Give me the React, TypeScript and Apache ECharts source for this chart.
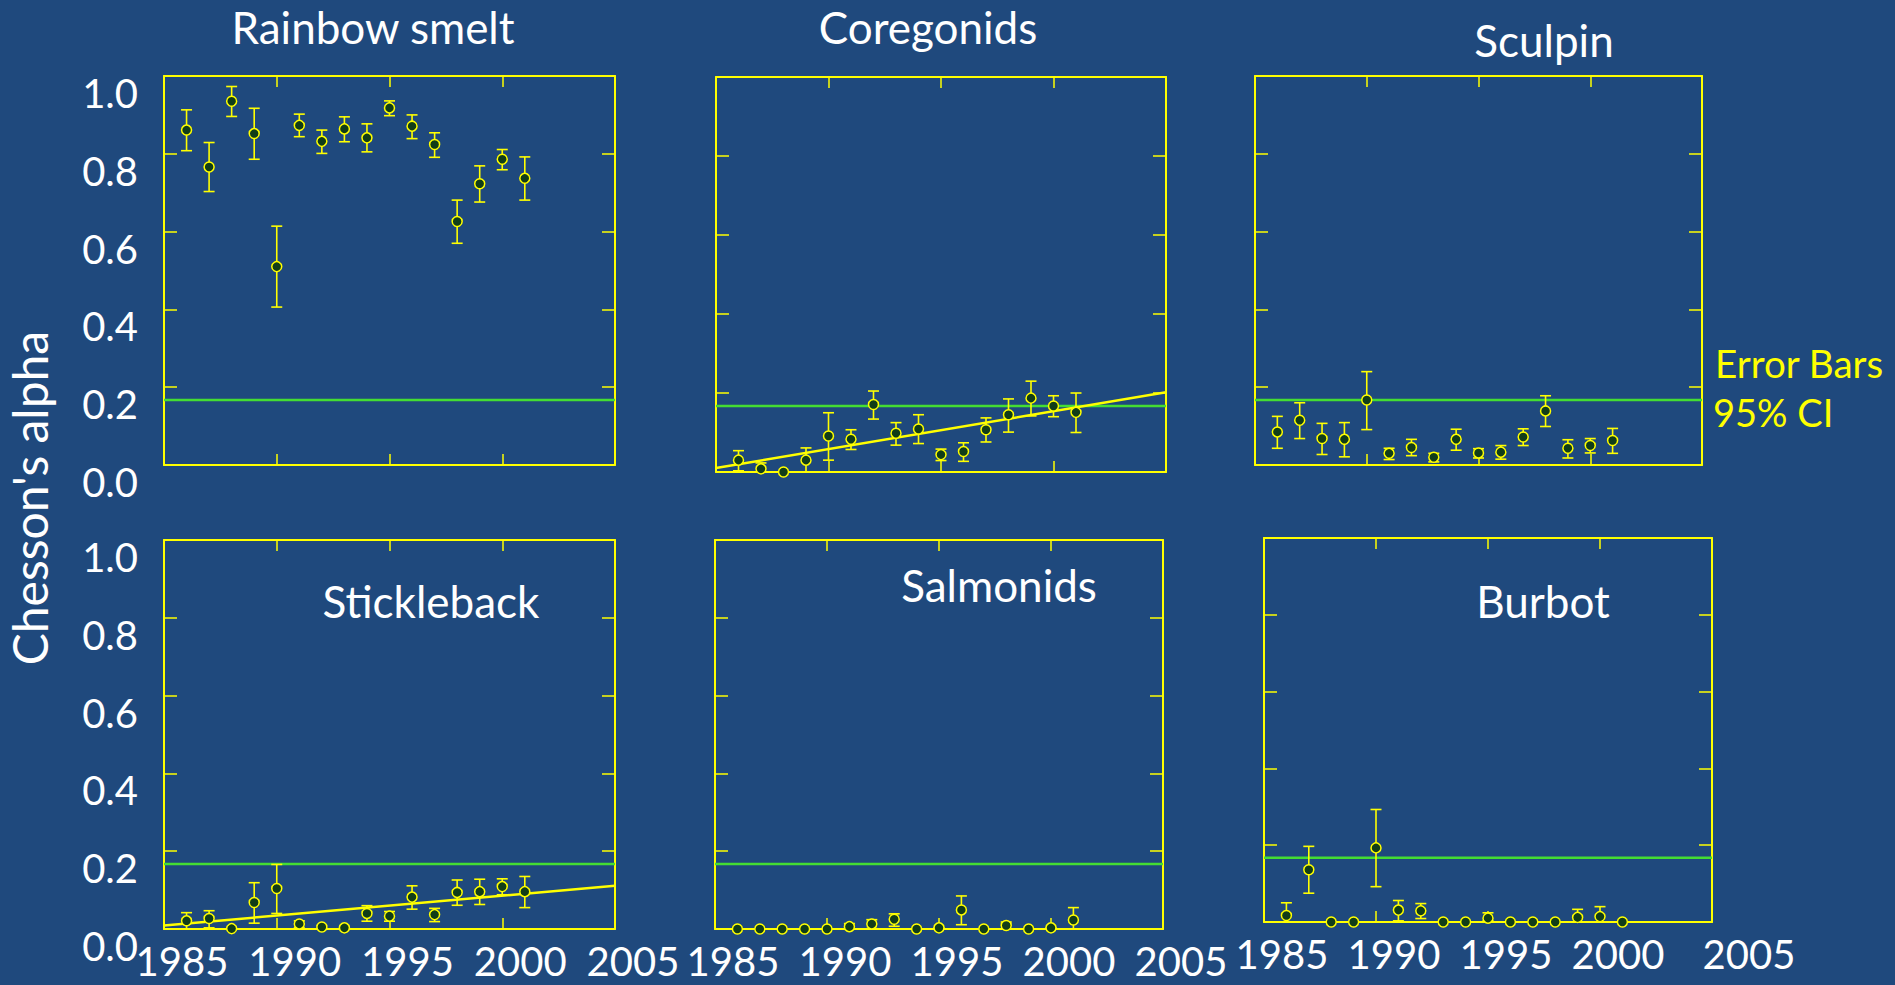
import React, { useEffect, useRef } from "react";
import * as echarts from "echarts";

// ---------- data ----------
const years = [1986, 1987, 1988, 1989, 1990, 1991, 1992, 1993, 1994, 1995, 1996, 1997, 1998, 1999, 2000, 2001];
const xTickYears = [1985, 1990, 1995, 2000, 2005];
const yTickValues = [0, 0.2, 0.4, 0.6, 0.8, 1.0];

const smeltMean = [0.861, 0.766, 0.935, 0.852, 0.510, 0.873, 0.832, 0.864, 0.841, 0.918, 0.871, 0.824, 0.626, 0.723, 0.786, 0.737];
const smeltLo = [0.808, 0.703, 0.896, 0.786, 0.406, 0.844, 0.801, 0.831, 0.805, 0.898, 0.839, 0.791, 0.570, 0.676, 0.759, 0.681];
const smeltHi = [0.913, 0.829, 0.973, 0.917, 0.614, 0.902, 0.861, 0.895, 0.877, 0.936, 0.900, 0.854, 0.681, 0.769, 0.811, 0.792];

const coregMean = [0.030, 0.008, 0.000, 0.030, 0.091, 0.083, 0.171, 0.098, 0.109, 0.044, 0.052, 0.107, 0.145, 0.187, 0.167, 0.151];
const coregLo = [0.003, 0.000, 0.000, 0.000, 0.030, 0.057, 0.134, 0.068, 0.072, 0.029, 0.027, 0.076, 0.101, 0.142, 0.140, 0.100];
const coregHi = [0.054, 0.023, 0.000, 0.061, 0.150, 0.107, 0.205, 0.125, 0.145, 0.058, 0.074, 0.137, 0.185, 0.230, 0.193, 0.200];
const coregTrend = [[1985, 0.010], [2005, 0.202]];

const sculpinMean = [0.085, 0.115, 0.068, 0.066, 0.167, 0.030, 0.045, 0.020, 0.066, 0.031, 0.033, 0.072, 0.139, 0.043, 0.050, 0.063];
const sculpinLo = [0.043, 0.068, 0.027, 0.021, 0.091, 0.014, 0.024, 0.008, 0.038, 0.018, 0.015, 0.050, 0.099, 0.018, 0.031, 0.030];
const sculpinHi = [0.125, 0.160, 0.107, 0.109, 0.240, 0.043, 0.066, 0.030, 0.092, 0.042, 0.050, 0.093, 0.178, 0.065, 0.068, 0.094];

const stickMean = [0.021, 0.027, 0.001, 0.068, 0.104, 0.013, 0.005, 0.003, 0.040, 0.033, 0.082, 0.037, 0.094, 0.096, 0.109, 0.096];
const stickLo = [0.000, 0.003, 0.001, 0.015, 0.040, 0.003, 0.001, 0.000, 0.020, 0.020, 0.051, 0.019, 0.061, 0.063, 0.088, 0.055];
const stickHi = [0.042, 0.047, 0.001, 0.119, 0.166, 0.021, 0.009, 0.006, 0.060, 0.045, 0.111, 0.053, 0.126, 0.128, 0.129, 0.135];
const stickTrend = [[1985, 0.009], [2005, 0.111]];

const salmMean = [0, 0, 0, 0, 0, 0.006, 0.013, 0.025, 0, 0.003, 0.049, 0, 0.009, 0, 0.003, 0.023];
const salmLo = [0, 0, 0, 0, 0, 0, 0.001, 0.007, 0, 0, 0.011, 0, 0, 0, 0, 0];
const salmHi = [0, 0, 0, 0, 0, 0.014, 0.024, 0.039, 0, 0.003, 0.085, 0, 0.018, 0, 0.003, 0.055];

const burbotMean = [0.017, 0.136, 0, 0, 0.193, 0.031, 0.029, 0, 0, 0.010, 0, 0, 0, 0.012, 0.014, 0];
const burbotLo = [0, 0.075, 0, 0, 0.092, 0.003, 0.009, 0, 0, 0.003, 0, 0, 0, 0, 0, 0];
const burbotHi = [0.050, 0.197, 0, 0, 0.293, 0.056, 0.048, 0, 0, 0.024, 0, 0, 0, 0.033, 0.040, 0];

const neutralAlpha = 0.167;

// ---------- layout / style ----------
const BG = "#1F497D";
const YEL = "#ffff00";
const GREEN = "#44dd33";
const FONT = "Lato";

type Panel = {
  title: string;
  mean: number[]; lo: number[]; hi: number[];
  trend?: number[][];
  grid: { left: number; top: number; width: number; height: number };
  titlePos: [number, number];
  showX: boolean; showY: boolean;
  last2005Shift?: boolean;
};

const panels: Panel[] = [
  { title: "Rainbow smelt", mean: smeltMean, lo: smeltLo, hi: smeltHi, grid: { left: 164, top: 76, width: 451, height: 389 }, titlePos: [373, 27], showX: false, showY: true },
  { title: "Coregonids", mean: coregMean, lo: coregLo, hi: coregHi, trend: coregTrend, grid: { left: 716, top: 77, width: 450, height: 395 }, titlePos: [928, 27], showX: false, showY: false },
  { title: "Sculpin", mean: sculpinMean, lo: sculpinLo, hi: sculpinHi, grid: { left: 1255, top: 76, width: 447, height: 389 }, titlePos: [1544, 40], showX: false, showY: false },
  { title: "Stickleback", mean: stickMean, lo: stickLo, hi: stickHi, trend: stickTrend, grid: { left: 164, top: 540, width: 451, height: 389 }, titlePos: [431, 601], showX: true, showY: true },
  { title: "Salmonids", mean: salmMean, lo: salmLo, hi: salmHi, grid: { left: 715, top: 540, width: 448, height: 389 }, titlePos: [999, 585], showX: true, showY: false },
  { title: "Burbot", mean: burbotMean, lo: burbotLo, hi: burbotHi, grid: { left: 1264, top: 538, width: 448, height: 384 }, titlePos: [1543, 601], showX: true, showY: false, last2005Shift: true },
];

function buildOption() {
  const grids: any[] = [];
  const xAxes: any[] = [];
  const yAxes: any[] = [];
  const series: any[] = [];
  const graphics: any[] = [];

  const axisLine = { show: true, onZero: false, lineStyle: { color: YEL, width: 2 } };

  panels.forEach((p, i) => {
    grids.push({ ...p.grid, containLabel: false });
    const xBase = {
      type: "value", gridIndex: i, min: xTickYears[0], max: xTickYears[xTickYears.length - 1], interval: 5,
      splitLine: { show: false }, axisLine,
      axisTick: { show: true, inside: true, length: 11, lineStyle: { color: YEL, width: 1.5 } },
    };
    xAxes.push({
      ...xBase, position: "bottom",
      axisLabel: {
        show: p.showX, color: "#ffffff", fontFamily: FONT, fontSize: 40, margin: 12,
        padding: [0, 0, 0, 36], hideOverlap: false, showMinLabel: true, showMaxLabel: true,
        formatter: (v: number) => (p.last2005Shift && v === 2005 ? "{s|" + v + "}" : String(v)),
        rich: { s: { color: "#ffffff", fontFamily: FONT, fontSize: 40, padding: [0, 0, 0, 38] } },
      },
    });
    xAxes.push({ ...xBase, position: "top", axisLabel: { show: false } });
    const yBase = {
      type: "value", gridIndex: i, min: yTickValues[0], max: yTickValues[yTickValues.length - 1], interval: 0.2,
      splitLine: { show: false }, axisLine,
      axisTick: { show: true, inside: true, length: 13, lineStyle: { color: YEL, width: 1.5 } },
    };
    yAxes.push({
      ...yBase, position: "left",
      axisLabel: {
        show: p.showY, color: "#ffffff", fontFamily: FONT, fontSize: 40, margin: 26,
        verticalAlign: "top", lineHeight: 34, showMinLabel: true, showMaxLabel: true,
        formatter: (v: number) => v.toFixed(1),
      },
    });
    yAxes.push({ ...yBase, position: "right", axisLabel: { show: false } });

    const xi = i * 2;
    series.push({
      type: "line", xAxisIndex: xi, yAxisIndex: xi, silent: true, showSymbol: false, z: 2,
      lineStyle: { color: GREEN, width: 2.5 },
      data: [[xTickYears[0], neutralAlpha], [xTickYears[xTickYears.length - 1], neutralAlpha]],
    });
    if (p.trend) {
      series.push({
        type: "line", xAxisIndex: xi, yAxisIndex: xi, silent: true, showSymbol: false, z: 3,
        lineStyle: { color: YEL, width: 2.5 }, data: p.trend,
      });
    }
    series.push({
      type: "custom", xAxisIndex: xi, yAxisIndex: xi, z: 4, silent: true, clip: false,
      data: years.map((y, k) => [y, p.lo[k], p.hi[k]]),
      renderItem: (_params: any, api: any) => {
        const x = api.value(0), lo = api.value(1), hi = api.value(2);
        if (hi - lo < 0.0005) return { type: "group", children: [] };
        const t = api.coord([x, hi]);
        const b = api.coord([x, lo]);
        const w = 5.5;
        const st = { stroke: YEL, lineWidth: 1.6 };
        return {
          type: "group",
          children: [
            { type: "line", shape: { x1: t[0], y1: t[1], x2: b[0], y2: b[1] }, style: st },
            { type: "line", shape: { x1: t[0] - w, y1: t[1], x2: t[0] + w, y2: t[1] }, style: st },
            { type: "line", shape: { x1: b[0] - w, y1: b[1], x2: b[0] + w, y2: b[1] }, style: st },
          ],
        };
      },
    });
    series.push({
      type: "scatter", xAxisIndex: xi, yAxisIndex: xi, z: 5, clip: false, silent: true,
      symbol: "circle", symbolSize: 10,
      itemStyle: { color: "#113d18", borderColor: YEL, borderWidth: 1.5, opacity: 1 },
      data: years.map((y, k) => [y, p.mean[k]]),
    });

    graphics.push({
      type: "text", x: p.titlePos[0], y: p.titlePos[1], z: 10,
      style: { text: p.title, fill: "#ffffff", font: `44px ${FONT}`, lineHeight: 38, align: "center", verticalAlign: "middle" },
    });
  });

  graphics.push({
    type: "text", x: 29, y: 498, rotation: Math.PI / 2, z: 10,
    style: { text: "Chesson's alpha", fill: "#ffffff", font: `48px ${FONT}`, lineHeight: 40, align: "center", verticalAlign: "middle" },
  });
  graphics.push({
    type: "text", x: 1715, y: 363, z: 10,
    style: { text: "Error Bars", fill: YEL, font: `38.5px ${FONT}`, align: "left", verticalAlign: "middle" },
  });
  graphics.push({
    type: "text", x: 1713, y: 412, z: 10,
    style: { text: "95% CI", fill: YEL, font: `38px ${FONT}`, align: "left", verticalAlign: "middle" },
  });

  return {
    animation: false,
    backgroundColor: BG,
    grid: grids,
    xAxis: xAxes,
    yAxis: yAxes,
    series,
    graphic: graphics,
  };
}

export default function App() {
  const ref = useRef<HTMLDivElement>(null);
  useEffect(() => {
    document.body.style.margin = "0";
    document.body.style.background = BG;
    if (!ref.current) return;
    const chart = echarts.init(ref.current, undefined, { renderer: "svg" });
    chart.setOption(buildOption() as any);
    return () => chart.dispose();
  }, []);
  return <div ref={ref} style={{ width: 1895, height: 985 }} />;
}
